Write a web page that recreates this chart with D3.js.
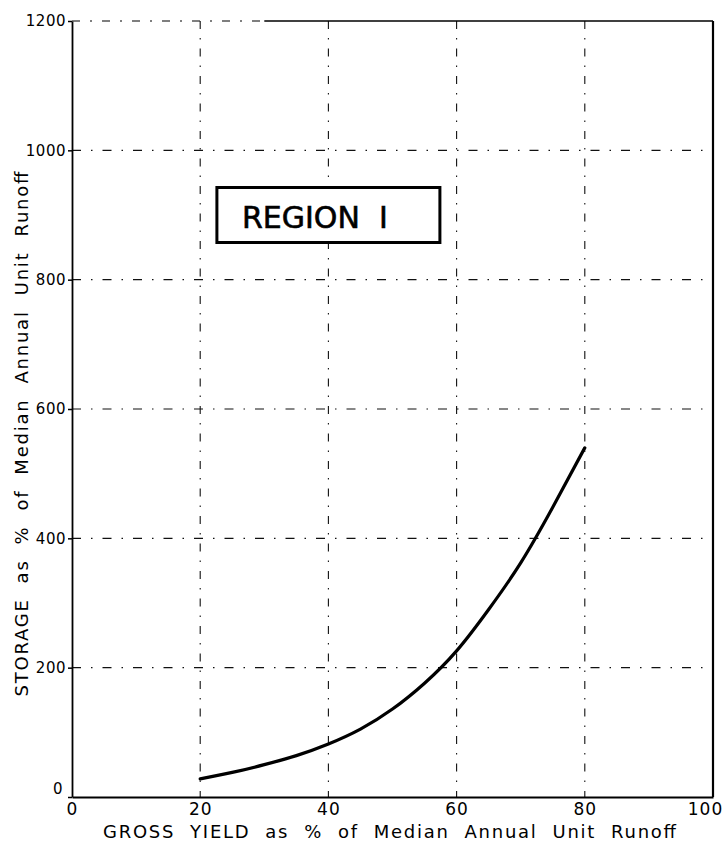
<!DOCTYPE html>
<html>
<head>
<meta charset="utf-8">
<script src="https://cdn.jsdelivr.net/npm/d3@7"></script>
<style>
  body { margin: 0; background: #fff; }
  svg { display: block; font-family: 'DejaVu Sans', sans-serif; }
  .pre { white-space: pre; }
</style>
</head>
<body>
<div class="container"></div>
<script>
const xTicks = [0, 20, 40, 60, 80, 100];
const yTicks = [0, 200, 400, 600, 800, 1000, 1200];
const grossYield = [20, 25, 30, 35, 40, 45, 50, 55, 60, 65, 70, 75, 80];
const storage = [28, 38, 50, 64, 82, 105, 136, 176, 226, 290, 362, 448, 540];
const xTitle = 'GROSS  YIELD  as  %  of  Median  Annual  Unit  Runoff';
const yTitle = 'STORAGE  as  %  of  Median  Annual  Unit  Runoff';
const regionLabel = 'REGION  I';
const regionAt = [40, 900];

const renderChart = () => {
  const width = 725;
  const height = 847;
  const margin = { top: 21, right: 12, bottom: 50, left: 72 };
  const chartWidth = width - margin.left - margin.right;
  const chartHeight = height - margin.top - margin.bottom;

  const svg = d3.select('.container').append('svg').attr('width', width).attr('height', height);
  const chart = svg.append('g').attr('class', 'chart').attr('transform', `translate(${margin.left},${margin.top})`);

  const xScale = d3.scaleLinear().domain([0, 100]).range([0, chartWidth]);
  const yScale = d3.scaleLinear().domain([0, 1200]).range([chartHeight, 0]);

  // grid, drawn like the old dash-dot ruling
  const grid = chart.append('g').attr('class', 'grid').attr('stroke', '#111').attr('stroke-width', 1.1);
  grid
    .selectAll('line.v')
    .data(xTicks.slice(1, -1))
    .enter()
    .append('line')
    .attr('class', 'v')
    .attr('x1', d => xScale(d))
    .attr('x2', d => xScale(d))
    .attr('y1', 0)
    .attr('y2', chartHeight)
    .attr('stroke-dasharray', '8,9,1.5,9');
  grid
    .selectAll('line.h')
    .data(yTicks.slice(1, -1))
    .enter()
    .append('line')
    .attr('class', 'h')
    .attr('x1', 0)
    .attr('x2', chartWidth)
    .attr('y1', d => yScale(d))
    .attr('y2', d => yScale(d))
    .attr('stroke-dasharray', '9,10,1.5,10');

  // frame: top border dotted on the left part, solid after
  const frame = chart.append('g').attr('class', 'frame').attr('stroke', '#000').attr('fill', 'none');
  frame.append('line').attr('x1', 0).attr('x2', xScale(30)).attr('y1', 0).attr('y2', 0)
    .attr('stroke-width', 1.2).attr('stroke-dasharray', '8,10,2,10');
  frame.append('line').attr('x1', xScale(30)).attr('x2', chartWidth).attr('y1', 0).attr('y2', 0).attr('stroke-width', 1.6);
  frame.append('line').attr('x1', chartWidth).attr('x2', chartWidth).attr('y1', 0).attr('y2', chartHeight).attr('stroke-width', 2.2);

  const bottomAxis = d3.axisBottom(xScale).tickValues(xTicks).tickSize(0).tickPadding(6).tickFormat(d3.format('d'));
  const bottomAxisGroup = chart.append('g').attr('class', 'bottom-axis').attr('transform', `translate(0,${chartHeight})`);
  bottomAxis(bottomAxisGroup);
  bottomAxisGroup.attr('font-size', 17).attr('font-family', "'DejaVu Sans', sans-serif");
  bottomAxisGroup.select('.domain').attr('stroke', '#000').attr('stroke-width', 2.2);
  bottomAxisGroup.selectAll('text').attr('fill', '#000').attr('letter-spacing', 1);
  bottomAxisGroup.selectAll('.tick').filter(d => d === 100).select('text').attr('x', -8);

  const leftAxis = d3.axisLeft(yScale).tickValues(yTicks).tickSize(4).tickSizeOuter(0).tickPadding(2).tickFormat(d3.format('d'));
  const leftAxisGroup = chart.append('g').attr('class', 'left-axis');
  leftAxis(leftAxisGroup);
  leftAxisGroup.attr('font-size', 15).attr('font-family', "'DejaVu Sans', sans-serif");
  leftAxisGroup.select('.domain').attr('stroke', '#000').attr('stroke-width', 1.8);
  leftAxisGroup.selectAll('line').attr('stroke', '#000').attr('stroke-width', 1.5);
  leftAxisGroup.selectAll('text').attr('fill', '#000').attr('letter-spacing', 0.5);
  leftAxisGroup.selectAll('.tick').filter(d => d === 0).select('text').attr('dy', '-0.25em').attr('x', -9);

  const line = d3
    .line()
    .x((d, i) => xScale(grossYield[i]))
    .y(d => yScale(d))
    .curve(d3.curveNatural);

  chart
    .append('path')
    .attr('d', line(storage))
    .attr('fill', 'none')
    .attr('stroke', '#000')
    .attr('stroke-width', 3.2)
    .attr('stroke-linecap', 'round');

  // REGION I label box
  const boxW = 223;
  const boxH = 55;
  const bx = xScale(regionAt[0]) - boxW / 2;
  const by = yScale(regionAt[1]) - boxH / 2;
  chart
    .append('rect')
    .attr('x', bx)
    .attr('y', by)
    .attr('width', boxW)
    .attr('height', boxH)
    .attr('fill', '#fff')
    .attr('stroke', '#000')
    .attr('stroke-width', 3);
  chart
    .append('text')
    .attr('class', 'pre')
    .attr('x', bx + 25)
    .attr('y', by + 40)
    .attr('font-size', 30)
    .attr('fill', '#000')
    .attr('stroke', '#000')
    .attr('stroke-width', 0.6)
    .text(regionLabel);

  svg
    .append('text')
    .attr('class', 'pre')
    .text(xTitle)
    .attr('x', margin.left + chartWidth / 2 - 3)
    .attr('y', height - 9)
    .attr('text-anchor', 'middle')
    .attr('font-size', 18)
    .attr('textLength', 573)
    .attr('lengthAdjust', 'spacing');

  svg
    .append('text')
    .attr('class', 'pre')
    .text(yTitle)
    .attr('x', -(margin.top + chartHeight / 2 + 25))
    .attr('y', 28)
    .attr('transform', 'rotate(-90)')
    .attr('text-anchor', 'middle')
    .attr('font-size', 18)
    .attr('textLength', 525)
    .attr('lengthAdjust', 'spacing');
};

renderChart();
</script>
</body>
</html>
